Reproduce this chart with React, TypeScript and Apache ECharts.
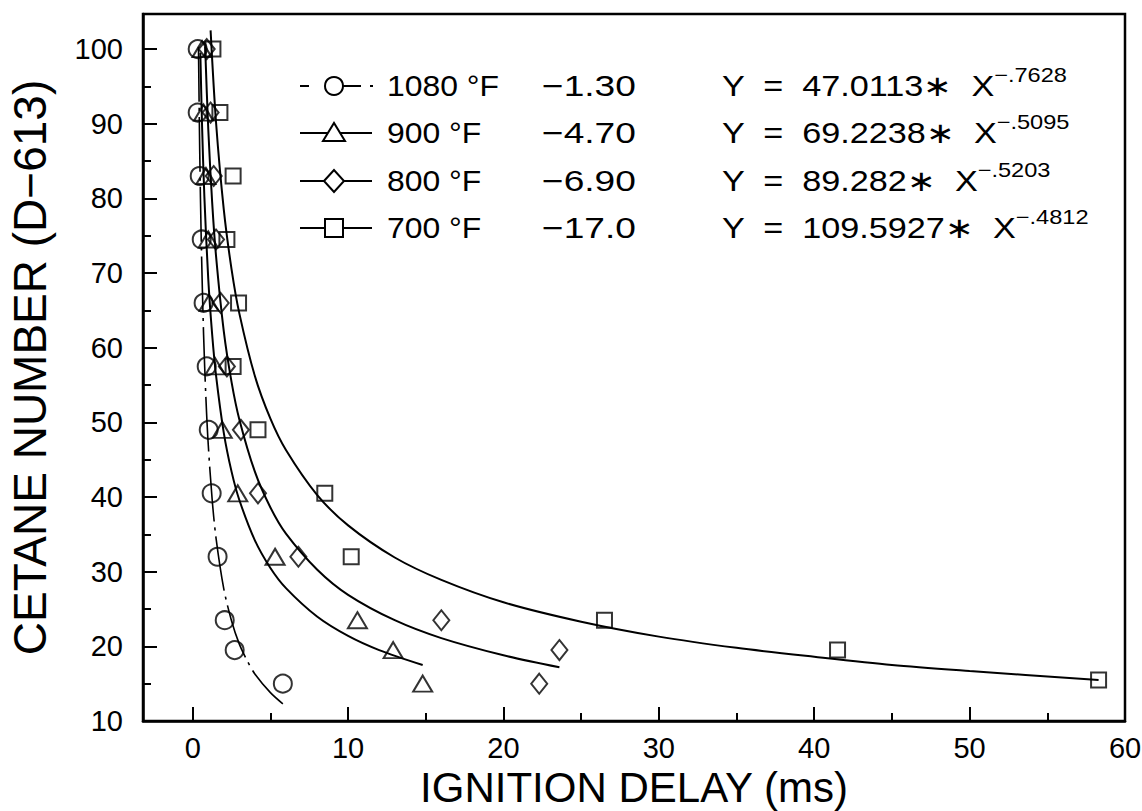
import React, { useEffect, useRef } from "react";
import * as echarts from "echarts";

// ---- data ----
const levels1080 = [100, 91.5, 83, 74.5, 66, 57.5, 49, 40.5, 32, 23.5, 19.5, 15];
const delay1080 = [0.32, 0.32, 0.45, 0.58, 0.7, 0.9, 1.03, 1.22, 1.6, 2.06, 2.7, 5.8];

const levels900 = [100, 91.5, 83, 74.5, 66, 57.5, 49, 40.5, 32, 23.5, 19.5, 15];
const delay900 = [0.6, 0.7, 0.85, 1.0, 1.05, 1.45, 1.9, 2.9, 5.3, 10.6, 12.9, 14.8];

const levels800 = [100, 91.5, 83, 74.5, 66, 57.5, 49, 40.5, 32, 23.5, 19.5, 15];
const delay800 = [0.9, 1.15, 1.35, 1.5, 1.8, 2.2, 3.1, 4.2, 6.8, 16.0, 23.6, 22.3];

const levels700 = [100, 91.5, 83, 74.5, 66, 57.5, 49, 40.5, 32, 23.5, 19.5, 15.5];
const delay700 = [1.3, 1.75, 2.6, 2.2, 2.95, 2.6, 4.2, 8.5, 10.2, 26.5, 41.5, 58.3];

// fitted curves as traced on the reference
const fit1080X = [0.37, 0.45, 0.55, 0.7, 0.85, 1.0, 1.25, 1.5, 2.0, 2.5, 3.0, 3.5, 4.0, 5.0, 5.8];
const fit1080Y = [100.3, 86.4, 74.2, 61.7, 53.2, 47.0, 39.7, 34.5, 27.7, 23.4, 20.3, 18.1, 16.3, 13.8, 12.3];

const fit900X = [0.49, 0.6, 0.75, 1.0, 1.25, 1.5, 2.0, 2.5, 3.0, 4.0, 5.0, 6.0, 8.0, 10.0, 12.0, 14.8];
const fit900Y = [99.5, 89.8, 80.2, 69.2, 61.8, 56.3, 48.6, 43.4, 39.6, 34.2, 30.5, 27.8, 24.0, 21.4, 19.5, 17.5];

const fit800X = [0.8, 1.0, 1.25, 1.5, 2.0, 2.5, 3.0, 4.0, 5.0, 6.0, 8.0, 10.0, 13.0, 16.0, 20.0, 23.6];
const fit800Y = [100.3, 89.3, 79.5, 72.3, 62.2, 55.4, 50.4, 43.4, 38.6, 35.1, 30.3, 26.9, 23.5, 21.1, 18.8, 17.2];

const fit700X = [1.15, 1.5, 2.0, 2.5, 3.0, 4.0, 5.0, 6.0, 8.0, 10.0, 13.0, 16.0, 20.0, 25.0, 30.0, 35.0, 40.0, 45.0, 50.0, 58.3];
const fit700Y = [102.5, 90.2, 78.5, 70.5, 64.6, 56.2, 50.5, 46.3, 40.3, 36.2, 31.9, 28.9, 25.9, 23.3, 21.3, 19.8, 18.6, 17.5, 16.7, 15.5];

const xMajor = [0, 10, 20, 30, 40, 50, 60];
const xMinor = [5, 15, 25, 35, 45, 55];
const yMajor = [10, 20, 30, 40, 50, 60, 70, 80, 90, 100];
const yMinor = [15, 25, 35, 45, 55, 65, 75, 85, 95];

const legendTemps = ["1080 °F", "900 °F", "800 °F", "700 °F"];
const legendSlopes = ["−1.30", "−4.70", "−6.90", "−17.0"];
const legendCoefs = ["47.0113", "69.2238", "89.282", "109.5927"];
const legendExps = ["−.7628", "−.5095", "−.5203", "−.4812"];

const X_MIN = -3.2;
const X_MAX = 60;
const Y_MIN = 10;
const Y_MAX = 104.7;

const FONT = "'Liberation Sans', Arial, Helvetica, sans-serif";

const zip = (xs: number[], ys: number[]) => xs.map((x, i) => [x, ys[i]]);

export default function App() {
  const ref = useRef<HTMLDivElement>(null);

  useEffect(() => {
    if (!ref.current) return;
    const chart = echarts.init(ref.current, null, { renderer: "svg" });

    const markerStyle = {
      color: "rgba(255,255,255,0)",
      borderColor: "#000",
      borderWidth: 2,
    };
    const lineStyle = { color: "#000", width: 2 };

    const rowsY = [86, 133, 181, 228];
    const lx1 = 300;
    const lx2 = 372;
    const sx = 334;

    const legendGraphics: any[] = [];
    rowsY.forEach((ry, i) => {
      if (i === 0) {
        legendGraphics.push(
          { type: "line", shape: { x1: lx1, y1: ry, x2: 309, y2: ry }, style: { stroke: "#000", lineWidth: 2 } },
          { type: "line", shape: { x1: 343, y1: ry, x2: 361, y2: ry }, style: { stroke: "#000", lineWidth: 2 } },
          { type: "line", shape: { x1: 370, y1: ry, x2: 373, y2: ry }, style: { stroke: "#000", lineWidth: 2 } },
          { type: "circle", shape: { cx: sx, cy: ry, r: 9 }, style: { fill: "#fff", stroke: "#000", lineWidth: 2 } }
        );
      } else {
        legendGraphics.push({
          type: "line",
          shape: { x1: lx1, y1: ry, x2: lx2, y2: ry },
          style: { stroke: "#000", lineWidth: 2 },
        });
        if (i === 1) {
          legendGraphics.push({
            type: "polygon",
            shape: { points: [[sx - 11, ry + 8], [sx + 11, ry + 8], [sx, ry - 10]] },
            style: { fill: "#fff", stroke: "#000", lineWidth: 2 },
          });
        } else if (i === 2) {
          legendGraphics.push({
            type: "polygon",
            shape: { points: [[sx - 10, ry], [sx, ry - 11], [sx + 10, ry], [sx, ry + 11]] },
            style: { fill: "#fff", stroke: "#000", lineWidth: 2 },
          });
        } else {
          legendGraphics.push({
            type: "rect",
            shape: { x: sx - 9, y: ry - 9, width: 18, height: 18 },
            style: { fill: "#fff", stroke: "#000", lineWidth: 2 },
          });
        }
      }
      legendGraphics.push(
        {
          type: "text",
          x: 387,
          y: ry,
          scaleX: 1.1,
          style: { text: legendTemps[i], fill: "#000", font: `29px ${FONT}`, verticalAlign: "middle" },
        },
        {
          type: "text",
          x: 542,
          y: ry,
          scaleX: 1.28,
          style: { text: legendSlopes[i], fill: "#000", font: `29px ${FONT}`, verticalAlign: "middle" },
        },
        {
          type: "text",
          x: 722,
          y: ry,
          scaleX: 1.18,
          style: {
            text: `{m|Y  =  ${legendCoefs[i]}∗  X}{s|${legendExps[i]}}`,
            verticalAlign: "middle",
            rich: {
              m: { fontSize: 29, fontFamily: FONT, fill: "#000", color: "#000" },
              s: { fontSize: 20, fontFamily: FONT, fill: "#000", color: "#000", padding: [0, 0, 22, 0] },
            },
          },
        }
      );
    });

    const option: any = {
      animation: false,
      backgroundColor: "#fff",
      grid: {
        left: 143,
        right: 17,
        top: 14,
        bottom: 90,
        show: true,
        borderColor: "#000",
        borderWidth: 2.5,
        backgroundColor: "rgba(0,0,0,0)",
        containLabel: false,
        outerBoundsMode: "none",
      },
      xAxis: [
        {
          type: "value",
          min: X_MIN,
          max: X_MAX,
          position: "bottom",
          axisLine: { show: true, onZero: false, lineStyle: { color: "#000", width: 2.5 } },
          axisTick: { show: true, inside: true, length: 14, customValues: xMajor, lineStyle: { color: "#000", width: 2 } },
          axisLabel: { show: true, customValues: xMajor, color: "#000", fontSize: 29, fontFamily: FONT, margin: 12 },
          splitLine: { show: false },
          name: "IGNITION DELAY (ms)",
          nameLocation: "middle",
          nameGap: 38,
          nameTextStyle: { color: "#000", fontSize: 42, fontFamily: FONT, lineHeight: 42 },
        },
        {
          type: "value",
          min: X_MIN,
          max: X_MAX,
          position: "bottom",
          axisLine: { show: false, onZero: false },
          axisTick: { show: true, inside: true, length: 8, customValues: xMinor, lineStyle: { color: "#000", width: 2 } },
          axisLabel: { show: false },
          splitLine: { show: false },
        },
      ],
      yAxis: [
        {
          type: "value",
          min: Y_MIN,
          max: Y_MAX,
          position: "left",
          axisLine: { show: true, onZero: false, lineStyle: { color: "#000", width: 2.5 } },
          axisTick: { show: true, inside: true, length: 14, customValues: yMajor, lineStyle: { color: "#000", width: 2 } },
          axisLabel: { show: true, customValues: yMajor, color: "#000", fontSize: 29, fontFamily: FONT, margin: 20 },
          splitLine: { show: false },
          name: "CETANE NUMBER (D−613)",
          nameLocation: "middle",
          nameGap: 90,
          nameTextStyle: { color: "#000", fontSize: 46, fontFamily: FONT, lineHeight: 46 },
        },
        {
          type: "value",
          min: Y_MIN,
          max: Y_MAX,
          position: "left",
          axisLine: { show: false, onZero: false },
          axisTick: { show: true, inside: true, length: 8, customValues: yMinor, lineStyle: { color: "#000", width: 2 } },
          axisLabel: { show: false },
          splitLine: { show: false },
        },
      ],
      series: [
        {
          name: "1080 °F fit",
          type: "line",
          data: zip(fit1080X, fit1080Y),
          showSymbol: false,
          symbol: "none",
          smooth: 0.3,
          lineStyle: { color: "#000", width: 1.6, type: [55, 6, 3, 6] },
          z: 2,
        },
        { name: "900 °F fit", type: "line", data: zip(fit900X, fit900Y), showSymbol: false, symbol: "none", smooth: 0.3, lineStyle, z: 2 },
        { name: "800 °F fit", type: "line", data: zip(fit800X, fit800Y), showSymbol: false, symbol: "none", smooth: 0.3, lineStyle, z: 2 },
        { name: "700 °F fit", type: "line", data: zip(fit700X, fit700Y), showSymbol: false, symbol: "none", smooth: 0.3, lineStyle, z: 2 },
        { name: "1080 °F", type: "scatter", data: zip(delay1080, levels1080), symbol: "circle", symbolSize: 18, itemStyle: markerStyle, z: 3 },
        { name: "900 °F", type: "scatter", data: zip(delay900, levels900), symbol: "triangle", symbolSize: [19, 16], itemStyle: markerStyle, z: 3 },
        { name: "800 °F", type: "scatter", data: zip(delay800, levels800), symbol: "diamond", symbolSize: [16, 20], itemStyle: markerStyle, z: 3 },
        { name: "700 °F", type: "scatter", data: zip(delay700, levels700), symbol: "rect", symbolSize: 15, itemStyle: markerStyle, z: 3 },
      ],
      graphic: legendGraphics,
    };

    chart.setOption(option);
    return () => chart.dispose();
  }, []);

  return (
    <div
      ref={ref}
      style={{ position: "absolute", left: 0, top: 0, width: 1142, height: 811, background: "#fff" }}
    />
  );
}
